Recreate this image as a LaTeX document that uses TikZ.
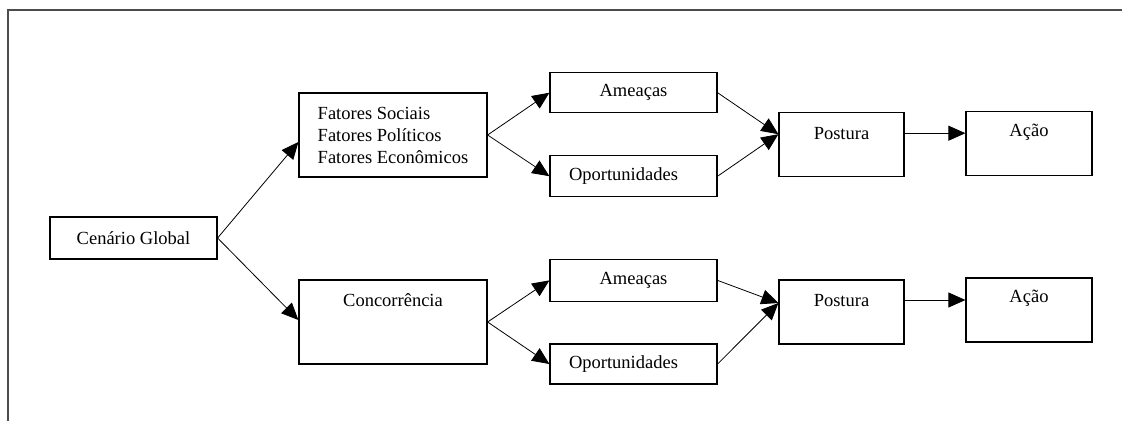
\documentclass[tikz,border=0pt]{standalone}
\usepackage{fontspec}
\setmainfont{Liberation Serif}
\usetikzlibrary{arrows.meta}
\begin{document}
\begin{tikzpicture}[x=1pt,y=-1pt,
  box/.style={draw, rectangle, line width=1.2pt, inner sep=0pt, font=\fontsize{18.5}{22}\selectfont},
  cap/.style={label={[anchor=center, yshift=-21pt, font=\fontsize{18.5}{22}\selectfont]north:#1}},
  arr/.style={-{Triangle[length=17pt,width=15pt]}, line width=0.8pt},
  frameline/.style={draw=black!70, line width=1.5pt}]
\useasboundingbox (0,0) rectangle (1122,421);
% partial frame: top and left edges
\draw[frameline] (8,421) -- (8,10) -- (1122,10);

% nodes
\node[box, minimum width=167pt, minimum height=42pt] (cg) at (133.5,238) {Cenário Global};
\node[box, minimum width=188pt, minimum height=84pt, align=left] (fat) at (393,135)
  {Fatores Sociais\\Fatores Políticos\\Fatores Econômicos};
\node[box, minimum width=188pt, minimum height=84pt, cap={Concorrência}] (con) at (393,322) {};

\node[box, minimum width=167pt, minimum height=40pt] (a1) at (633.5,92.7) {Ameaças};
\node[box, minimum width=167pt, minimum height=41pt] (o1) at (633.5,176.2) {\hspace*{-20pt}Oportunidades};
\node[box, minimum width=167pt, minimum height=42pt] (a2) at (633.5,280.4) {Ameaças};
\node[box, minimum width=167pt, minimum height=40pt] (o2) at (633.5,364) {\hspace*{-20pt}Oportunidades};

\node[box, minimum width=125pt, minimum height=64pt, cap={Postura}] (p1) at (841.5,144.7) {};
\node[box, minimum width=126pt, minimum height=64pt, cap={Ação}] (ac1) at (1029,143.5) {};
\node[box, minimum width=125pt, minimum height=64pt, cap={Postura}] (p2) at (841.5,312) {};
\node[box, minimum width=126pt, minimum height=64pt, cap={Ação}] (ac2) at (1029,310) {};

% connectors
\draw[arr] (cg.east) -- ([yshift=-7pt]fat.west);
\draw[arr] (cg.east) -- ([yshift=2pt]con.west);
\draw[arr] (fat.east) -- (a1.west);
\draw[arr] (fat.east) -- (o1.west);
\draw[arr] (con.east) -- (a2.west);
\draw[arr] (con.east) -- (o2.west);
\draw[arr] (a1.east) -- ([yshift=10.5pt]p1.west);
\draw[arr] (o1.east) -- ([yshift=10.5pt]p1.west);
\draw[arr] (a2.east) -- ([yshift=9pt]p2.west);
\draw[arr] (o2.east) -- ([yshift=9pt]p2.west);
\draw[arr] ([yshift=11.5pt]p1.east) -- ([yshift=11.5pt]p1.east -| ac1.west);
\draw[arr] ([yshift=12pt]p2.east) -- ([yshift=12pt]p2.east -| ac2.west);
\end{tikzpicture}
\end{document}
